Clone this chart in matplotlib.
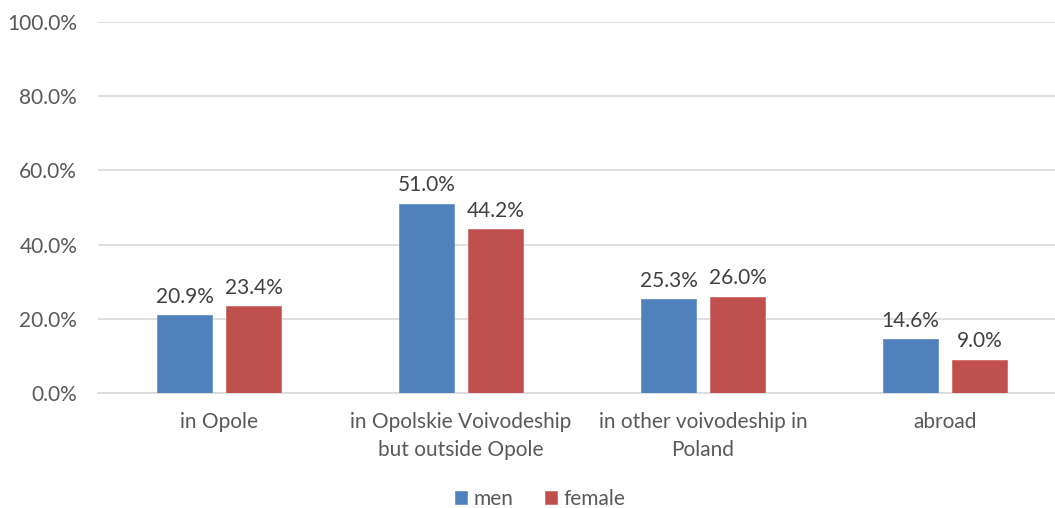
import matplotlib
matplotlib.use('Agg')
import matplotlib.pyplot as plt
import numpy as np

categories = ['in Opole', 'in Opolskie Voivodeship\nbut outside Opole',
              'in other voivodeship in\nPoland', 'abroad']
men = [0.209, 0.510, 0.253, 0.146]
female = [0.234, 0.442, 0.260, 0.090]
yticks = [0.0, 0.2, 0.4, 0.6, 0.8, 1.0]

blue = '#4F81BD'
red = '#C0504D'
grey = '#595959'

plt.rcParams['font.family'] = ['Lato', 'DejaVu Sans']

fig = plt.figure(figsize=(10.55, 5.08), dpi=100)
ax = fig.add_axes([98 / 1055, 1 - 393 / 508, 968 / 1055, 371 / 508])

x = np.arange(len(categories))
w = 0.227
off = 0.1426
b1 = ax.bar(x - off, men, w, color=blue, edgecolor='#6A96CC', linewidth=0.6, label='men', zorder=3)
b2 = ax.bar(x + off, female, w, color=red, edgecolor='#D06F6C', linewidth=0.6, label='female', zorder=3)

for bars, vals in ((b1, men), (b2, female)):
    for r, v in zip(bars, vals):
        ax.annotate(f'{v * 100:.1f}%', (r.get_x() + r.get_width() / 2, v),
                    xytext=(0, 6), textcoords='offset points', ha='center', va='bottom',
                    fontsize=15, color='#404040')

ax.set_xlim(-0.5, len(categories) - 0.5)
ax.set_ylim(0, 1.0)
ax.set_yticks(yticks)
ax.set_yticklabels([f'{t * 100:.1f}%' for t in yticks], fontsize=15, color=grey)
ax.set_xticks(x)
ax.set_xticklabels(categories, fontsize=15, color=grey, linespacing=1.45)
ax.tick_params(axis='both', length=0)
ax.tick_params(axis='y', pad=15)
ax.tick_params(axis='x', pad=14)
ax.grid(axis='y', color='#D9D9D9', linewidth=1.2, zorder=0)
for s in ['top', 'right', 'left']:
    ax.spines[s].set_visible(False)
ax.spines['bottom'].set_color('#D9D9D9')
ax.spines['bottom'].set_linewidth(1.2)

fig.legend(handles=[b1, b2], labels=['men', 'female'], loc='center', bbox_to_anchor=(540 / 1055, 1 - 499 / 508),
           ncol=2, frameon=False, fontsize=15, labelcolor=grey, handlelength=0.6, handleheight=0.6,
           handletextpad=0.3, columnspacing=1.5)

fig.savefig('out.png', dpi=100)
